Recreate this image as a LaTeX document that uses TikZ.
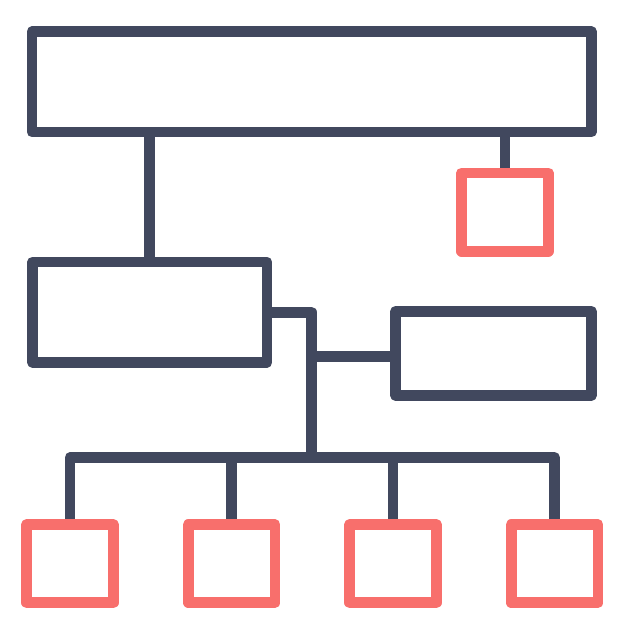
\documentclass[tikz,border=0pt]{standalone}
\usetikzlibrary{backgrounds}
\definecolor{navy}{RGB}{65,72,94}
\definecolor{coral}{RGB}{248,111,108}
\begin{document}
\begin{tikzpicture}[x=1pt,y=-1pt,
  lw/.style={line width=10.7pt,line join=round},
  navybox/.style={lw,draw=navy,fill=white,rectangle,inner sep=0pt,outer sep=0pt},
  coralbox/.style={lw,draw=coral,fill=white,rectangle,inner sep=0pt,outer sep=0pt,minimum width=86.7pt,minimum height=78.3pt},
  wire/.style={lw,draw=navy}]
\useasboundingbox (0,0) rectangle (626,626);
\coordinate (j) at (311.5,457.5);
\node[navybox,minimum width=559.3pt,minimum height=100.3pt] (top) at (311.7,81.9) {};
\node[coralbox] (rt) at (504.9,212) {};
\node[navybox,minimum width=234.5pt,minimum height=100.3pt] (ml) at (149.75,312.2) {};
\node[navybox,minimum width=195.6pt,minimum height=84.2pt] (rb) at (493.5,353.4) {};
\node[coralbox] (b1) at (70,563.65) {};
\node[coralbox] (b2) at (231.65,563.65) {};
\node[coralbox] (b3) at (393,563.65) {};
\node[coralbox] (b4) at (554.6,563.65) {};
\begin{scope}[on background layer]
\draw[wire] (ml.north |- top.south) -- (ml.north);
\draw[wire] (rt.north |- top.south) -- (rt.north);
\draw[wire] (ml.east) -| (j);
\draw[wire] ([yshift=-3pt]rb.west) -- ([yshift=-3pt]rb.west -| j);
\draw[wire] (b1.north) |- (j) -| (b4.north);
\draw[wire] (b2.north) -- (b2.north |- j);
\draw[wire] (b3.north) -- (b3.north |- j);
\end{scope}
\end{tikzpicture}
\end{document}
